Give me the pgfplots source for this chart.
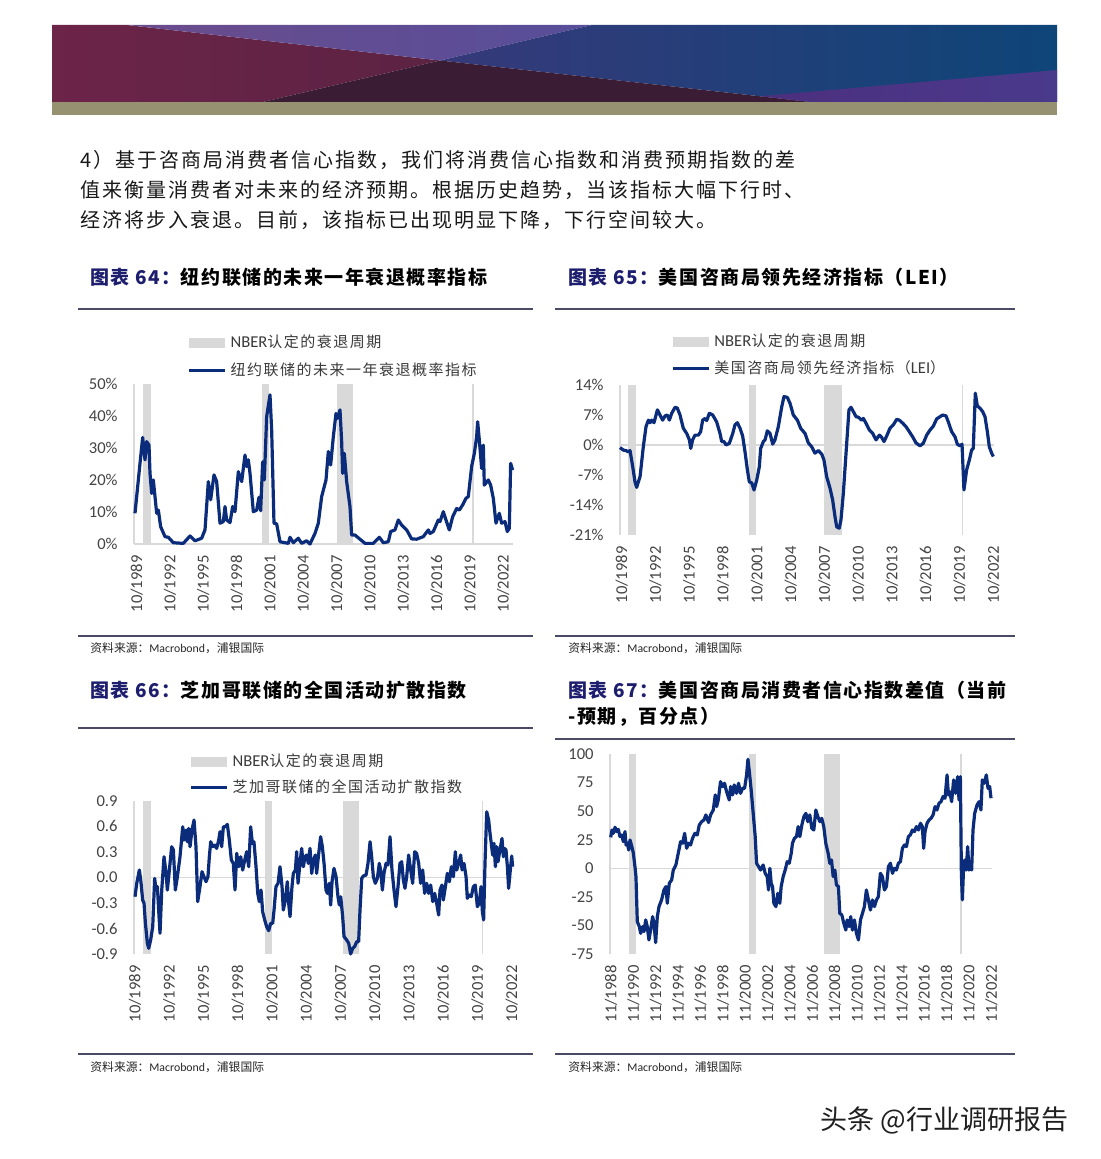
\documentclass[border=0pt]{standalone}
\usepackage{pgfplots}
\pgfplotsset{compat=1.18}
\usepackage{fontspec}
\setmainfont{Carlito}
\newfontfamily\cjk{Noto Sans CJK SC}
\newfontfamily\cjkls[LetterSpace=10]{Noto Sans CJK SC}
\newfontfamily\cjkbody[LetterSpace=10]{Noto Sans CJK SC}
\newfontfamily\cjktitle[LetterSpace=8]{Noto Sans CJK SC}

\definecolor{serc}{HTML}{0A2C7A}
\definecolor{recgray}{HTML}{D9D9D9}
\definecolor{axgray}{HTML}{D9D9D9}
\definecolor{ticklbl}{HTML}{444444}
\definecolor{legtext}{HTML}{3A3A3A}
\definecolor{titlenavy}{HTML}{1E1E6E}
\definecolor{rulec}{HTML}{4A4A66}
\definecolor{mar1}{HTML}{6C2448}
\definecolor{mar2}{HTML}{5C2343}
\definecolor{pur1}{HTML}{6A4C8C}
\definecolor{pur2}{HTML}{584E9A}
\definecolor{nav1}{HTML}{36397A}
\definecolor{nav2}{HTML}{0E4578}
\definecolor{darkb}{HTML}{3B1C35}
\definecolor{vio1}{HTML}{4C2F7E}
\definecolor{vio2}{HTML}{4A3A8C}
\definecolor{olivec}{HTML}{959171}

\tikzset{
  rec/.style={fill=recgray, draw=none},
  ser/.style={color=serc, line width=1.6pt, line join=round, mark=none},
}
\pgfplotsset{
  chart/.style={
    scale only axis, clip=false, anchor=south west,
    axis x line*=bottom, axis y line*=left,
    x axis line style={draw=none},
    y axis line style={draw=axgray, line width=0.7pt},
    major tick length=0pt,
    tick label style={font=\fontsize{8.3}{9}\selectfont, text=ticklbl},
    xticklabel style={rotate=90, anchor=east, inner sep=0pt},
    yticklabel style={anchor=east, inner sep=0pt},
    xticklabel shift=5.5pt, yticklabel shift=8pt,
    extra y ticks={0}, extra y tick labels={},
    extra y tick style={ymajorgrids=true, major grid style={draw=axgray, line width=0.7pt}},
    legend style={draw=none, fill=none, inner sep=0pt, anchor=north west,
      font=\fontsize{8.3}{9}\selectfont, text=legtext},
    legend cell align=left,
  },
  recleg/.style={legend image code/.code={\fill[recgray] (0pt,-2.6pt) rectangle (18pt,2.6pt);}},
  serleg/.style={legend image code/.code={\draw[serc, line width=1.6pt] (0pt,0pt) -- (18pt,0pt);}},
}

\begin{document}
\begin{tikzpicture}
\path[use as bounding box, fill=white] (0pt,0pt) rectangle (550pt,-579.5pt);
\begin{scope}[x=0.5pt,y=-0.5pt]
% banner
\shade[left color=mar1, right color=mar2] (52,25) -- (127,25) -- (440,60.5) -- (263,102) -- (52,102) -- cycle;
\shade[left color=pur1, right color=pur2] (127,25) -- (592,25) -- (440,60.5) -- cycle;
\shade[left color=nav1, right color=nav2] (592,25) -- (1057,25) -- (1057,102) -- (811,102) -- (440,60.5) -- cycle;
\fill[darkb] (440,60.5) -- (811,102) -- (263,102) -- cycle;
\shade[left color=vio1, right color=vio2] (760,96.3) -- (1057,70) -- (1057,102) -- (811,102) -- cycle;
\fill[olivec] (52,102) rectangle (1057,115);
% body text
\node[anchor=west, inner sep=0pt, font=\cjkbody\fontsize{10}{12}\selectfont, text=black!90] at (80,160) {4）基于咨商局消费者信心指数，我们将消费信心指数和消费预期指数的差};
\node[anchor=west, inner sep=0pt, font=\cjkbody\fontsize{10}{12}\selectfont, text=black!90] at (80,190) {值来衡量消费者对未来的经济预期。根据历史趋势，当该指标大幅下行时、};
\node[anchor=west, inner sep=0pt, font=\cjkbody\fontsize{10}{12}\selectfont, text=black!90] at (80,220) {经济将步入衰退。目前，该指标已出现明显下降，下行空间较大。};
% titles
\node[anchor=west, inner sep=0pt, font=\cjktitle\bfseries\fontsize{9.5}{11}\selectfont] at (90,277) {\textcolor{titlenavy}{图表 64：}纽约联储的未来一年衰退概率指标};
\node[anchor=west, inner sep=0pt, font=\cjktitle\bfseries\fontsize{9.5}{11}\selectfont] at (568,277) {\textcolor{titlenavy}{图表 65：}美国咨商局领先经济指标（LEI）};
\node[anchor=west, inner sep=0pt, font=\cjktitle\bfseries\fontsize{9.5}{11}\selectfont] at (90,690) {\textcolor{titlenavy}{图表 66：}芝加哥联储的全国活动扩散指数};
\node[anchor=west, inner sep=0pt, font=\cjktitle\bfseries\fontsize{9.5}{11}\selectfont] at (568,690) {\textcolor{titlenavy}{图表 67：}美国咨商局消费者信心指数差值（当前};
\node[anchor=west, inner sep=0pt, font=\cjktitle\bfseries\fontsize{9.5}{11}\selectfont] at (568,717) {-预期，百分点）};
% rules
\draw[rulec, line width=0.6pt] (78,309) -- (533,309);
\draw[rulec, line width=0.6pt] (555,309) -- (1015,309);
\draw[rulec, line width=0.6pt] (78,636) -- (533,636);
\draw[rulec, line width=0.6pt] (555,636) -- (1015,636);
\draw[rulec, line width=0.6pt] (78,728) -- (533,728);
\draw[rulec, line width=0.6pt] (555,739) -- (1015,739);
\draw[rulec, line width=0.6pt] (78,1054) -- (533,1054);
\draw[rulec, line width=0.6pt] (555,1054) -- (1015,1054);
% sources
\node[anchor=west, inner sep=0pt, font=\fontsize{5.9}{7}\selectfont, text=black!85] at (90,648) {{\cjk 资料来源：}Macrobond{\cjk ，浦银国际}};
\node[anchor=west, inner sep=0pt, font=\fontsize{5.9}{7}\selectfont, text=black!85] at (568,648) {{\cjk 资料来源：}Macrobond{\cjk ，浦银国际}};
\node[anchor=west, inner sep=0pt, font=\fontsize{5.9}{7}\selectfont, text=black!85] at (90,1067) {{\cjk 资料来源：}Macrobond{\cjk ，浦银国际}};
\node[anchor=west, inner sep=0pt, font=\fontsize{5.9}{7}\selectfont, text=black!85] at (568,1067) {{\cjk 资料来源：}Macrobond{\cjk ，浦银国际}};
% watermark
\node[anchor=west, inner sep=0pt, font=\cjk\fontsize{13.5}{15}\selectfont, text=black!88] at (820,1120) {头条 @行业调研报告};
\end{scope}

% ===== Chart 64 =====
\begin{axis}[chart, at={(67pt,-272pt)}, width=189.65pt, height=80pt,
  xmin=1989.51, xmax=2023.65, ymin=0, ymax=50,
  ytick={0,10,20,30,40,50}, yticklabels={0\%,10\%,20\%,30\%,40\%,50\%},
  xtick={1989.75,1992.75,1995.75,1998.75,2001.75,2004.75,2007.75,2010.75,2013.75,2016.75,2019.75,2022.75},
  xticklabels={10/1989,10/1992,10/1995,10/1998,10/2001,10/2004,10/2007,10/2010,10/2013,10/2016,10/2019,10/2022},
  legend style={at={(0.1397,1.334)}, row sep=2pt}]
\addplot[rec, recleg] coordinates {(1990.29,0) (1990.29,50) (1991.04,50) (1991.04,0)};
\addlegendentry{NBER{\cjkls\fontsize{7.5}{9}\selectfont 认定的衰退周期}}
\addplot[rec, forget plot] coordinates {(2001.00,0) (2001.00,50) (2001.69,50) (2001.69,0)};
\addplot[rec, forget plot] coordinates {(2007.75,0) (2007.75,50) (2009.25,50) (2009.25,0)};
\addplot[rec, forget plot] coordinates {(2019.90,0) (2019.90,50) (2020.11,50) (2020.11,0)};
\addplot[ser, serleg] table {
1989.60 9.6
1990.05 25.2
1990.29 33.3
1990.50 26.3
1990.65 32.0
1990.86 30.9
1990.95 22.1
1991.10 15.8
1991.25 20.0
1991.40 14.8
1991.55 9.6
1991.70 10.6
1991.91 5.4
1992.30 2.3
1992.60 2.1
1993.05 0.4
1993.95 0.2
1994.55 2.5
1995.00 1.0
1995.60 1.8
1995.90 4.4
1996.20 19.5
1996.41 13.8
1996.71 21.6
1996.95 19.5
1997.25 6.5
1997.55 7.0
1997.70 11.7
1997.85 7.5
1998.15 6.7
1998.39 11.7
1998.60 10.1
1998.90 22.6
1999.20 19.5
1999.50 27.8
1999.65 24.2
1999.80 26.3
1999.95 22.1
2000.25 10.1
2000.55 10.6
2000.76 14.6
2000.91 10.4
2001.09 25.7
2001.24 20.0
2001.45 39.8
2001.75 46.6
2001.90 35.6
2002.11 6.5
2002.35 6.3
2002.65 0.7
2003.40 0.2
2003.55 2.1
2003.85 0.4
2004.30 1.8
2004.60 0.2
2005.05 1.0
2005.35 0.0
2005.80 3.3
2006.10 6.5
2006.40 14.8
2006.79 20.0
2007.00 28.9
2007.21 24.7
2007.45 33.5
2007.69 40.8
2007.84 39.3
2008.05 41.9
2008.20 32.0
2008.29 22.1
2008.44 28.3
2008.65 19.5
2008.95 11.7
2009.10 2.8
2009.40 2.8
2009.85 1.5
2010.30 0.2
2011.05 0.2
2011.59 2.1
2011.95 0.4
2012.40 0.7
2012.61 3.9
2013.00 4.4
2013.30 7.5
2013.60 5.9
2014.05 4.4
2014.50 1.6
2014.95 1.5
2015.55 2.3
2016.00 4.4
2016.15 3.3
2016.45 3.9
2016.90 7.5
2017.05 7.0
2017.35 10.1
2017.59 7.5
2017.89 4.4
2018.19 8.5
2018.55 11.1
2018.79 10.6
2019.09 12.2
2019.39 14.3
2019.60 14.8
2019.90 24.2
2020.14 28.3
2020.35 33.5
2020.44 38.2
2020.59 32.5
2020.80 23.6
2020.95 30.9
2021.04 18.4
2021.40 20.0
2021.61 18.4
2021.85 14.3
2022.09 6.5
2022.39 9.6
2022.60 6.5
2022.90 7.0
2023.11 3.9
2023.29 4.9
2023.41 25.2
2023.59 23.1
};
\addlegendentry{{\cjkls\fontsize{7.5}{9}\selectfont 纽约联储的未来一年衰退概率指标}}
\end{axis}

% ===== Chart 65 =====
\begin{axis}[chart, at={(310pt,-267.5pt)}, width=187pt, height=75pt,
  xmin=1989.60, xmax=2022.81, ymin=-21, ymax=14,
  ytick={-21,-14,-7,0,7,14}, yticklabels={-21\%,-14\%,-7\%,0\%,7\%,14\%},
  xtick={1989.75,1992.75,1995.75,1998.75,2001.75,2004.75,2007.75,2010.75,2013.75,2016.75,2019.75,2022.75},
  xticklabels={10/1989,10/1992,10/1995,10/1998,10/2001,10/2004,10/2007,10/2010,10/2013,10/2016,10/2019,10/2022},
  legend style={at={(0.136,1.37)}, row sep=1.5pt}]
\addplot[rec, recleg] coordinates {(1990.34,-21) (1990.34,14) (1991.02,14) (1991.02,-21)};
\addlegendentry{NBER{\cjkls\fontsize{7.5}{9}\selectfont 认定的衰退周期}}
\addplot[rec, forget plot] coordinates {(2001.02,-21) (2001.02,14) (2001.68,14) (2001.68,-21)};
\addplot[rec, forget plot] coordinates {(2007.74,-21) (2007.74,14) (2009.28,14) (2009.28,-21)};
\addplot[rec, forget plot] coordinates {(2019.94,-21) (2019.94,14) (2020.09,14) (2020.09,-21)};
\addplot[ser, serleg] table {
1989.60 -0.6
1989.90 -1.2
1990.13 -1.3
1990.34 -1.6
1990.49 -1.3
1990.73 -5.1
1990.93 -8.6
1991.08 -9.9
1991.23 -8.6
1991.38 -7.4
1991.67 -0.4
1991.91 4.3
1992.12 5.8
1992.27 5.2
1992.41 5.8
1992.62 5.2
1992.92 8.2
1993.15 7.0
1993.39 5.8
1993.60 6.8
1993.80 7.0
1993.98 5.8
1994.19 7.4
1994.49 8.8
1994.69 8.6
1994.93 7.0
1995.22 3.9
1995.52 2.7
1995.76 1.2
1995.88 -0.8
1996.05 1.2
1996.26 2.3
1996.56 2.3
1996.76 3.1
1996.94 5.8
1997.15 6.2
1997.30 5.7
1997.53 7.4
1997.83 7.0
1998.18 5.4
1998.48 2.7
1998.63 0.8
1998.84 0.8
1999.01 0.0
1999.31 0.4
1999.61 2.7
1999.81 4.7
2000.02 5.2
2000.26 3.9
2000.49 2.1
2000.70 -1.6
2000.91 -5.8
2001.08 -8.6
2001.29 -8.8
2001.50 -10.5
2001.74 -8.2
2001.97 -5.1
2002.09 -0.8
2002.33 0.8
2002.48 1.2
2002.68 3.3
2002.92 2.7
2003.16 0.2
2003.36 1.2
2003.66 4.3
2003.96 8.9
2004.16 11.3
2004.46 11.1
2004.70 9.7
2004.99 7.0
2005.35 5.8
2005.64 3.9
2006.03 2.7
2006.32 0.5
2006.62 -0.4
2006.91 -1.9
2007.21 -1.3
2007.51 -2.1
2007.71 -3.5
2007.95 -7.4
2008.25 -10.1
2008.48 -12.8
2008.69 -16.7
2008.84 -19.1
2009.07 -19.4
2009.22 -17.5
2009.43 -11.3
2009.73 0.4
2009.93 8.2
2010.11 8.8
2010.32 7.8
2010.56 6.6
2010.76 6.5
2011.06 5.8
2011.21 6.2
2011.44 5.1
2011.74 3.5
2012.04 2.7
2012.33 1.2
2012.63 2.3
2012.83 1.8
2013.04 0.8
2013.28 2.1
2013.57 3.9
2013.87 4.7
2014.17 6.0
2014.40 5.8
2014.70 5.1
2014.99 4.3
2015.29 3.1
2015.59 1.9
2015.88 0.5
2016.24 -0.2
2016.53 0.4
2016.83 2.3
2017.13 3.5
2017.42 4.4
2017.72 6.1
2018.01 6.6
2018.25 7.0
2018.55 6.8
2018.75 5.4
2019.05 3.1
2019.35 1.9
2019.55 0.2
2019.79 -0.2
2019.97 0.2
2020.14 -10.5
2020.38 -5.8
2020.62 -3.5
2020.82 -1.2
2020.97 -0.8
2021.15 12.1
2021.33 9.1
2021.56 8.6
2021.80 7.8
2022.01 6.6
2022.22 3.1
2022.39 -0.4
2022.60 -1.9
2022.75 -2.7
};
\addlegendentry{{\cjkls\fontsize{7.5}{9}\selectfont 美国咨商局领先经济指标（}LEI{\cjkls\fontsize{7.5}{9}\selectfont ）}}
\end{axis}

% ===== Chart 66 =====
\begin{axis}[chart, at={(67pt,-477pt)}, width=189.65pt, height=76.65pt,
  xmin=1989.66, xmax=2022.89, ymin=-0.9, ymax=0.9,
  ytick={-0.9,-0.6,-0.3,0,0.3,0.6,0.9}, yticklabels={-0.9,-0.6,-0.3,0.0,0.3,0.6,0.9},
  xtick={1989.75,1992.75,1995.75,1998.75,2001.75,2004.75,2007.75,2010.75,2013.75,2016.75,2019.75,2022.75},
  xticklabels={10/1989,10/1992,10/1995,10/1998,10/2001,10/2004,10/2007,10/2010,10/2013,10/2016,10/2019,10/2022},
  legend style={at={(0.145,1.334)}, row sep=1pt}]
\addplot[rec, recleg] coordinates {(1990.48,-0.9) (1990.48,0.9) (1991.12,0.9) (1991.12,-0.9)};
\addlegendentry{NBER{\cjkls\fontsize{7.5}{9}\selectfont 认定的衰退周期}}
\addplot[rec, forget plot] coordinates {(2001.14,-0.9) (2001.14,0.9) (2001.78,0.9) (2001.78,-0.9)};
\addplot[rec, forget plot] coordinates {(2007.94,-0.9) (2007.94,0.9) (2009.35,0.9) (2009.35,-0.9)};
\addplot[rec, forget plot] coordinates {(2020.12,-0.9) (2020.12,0.9) (2020.27,0.9) (2020.27,-0.9)};
\addplot[ser, serleg] table {
1989.75 -0.227
1989.90 -0.070
1990.13 0.086
1990.25 -0.031
1990.42 -0.266
1990.54 -0.305
1990.66 -0.540
1990.83 -0.774
1990.95 -0.833
1991.12 -0.735
1991.30 -0.579
1991.47 -0.012
1991.59 -0.149
1991.71 -0.109
1991.82 -0.383
1991.94 -0.657
1992.09 -0.149
1992.29 0.242
1992.47 0.047
1992.58 -0.149
1992.76 0.086
1992.96 0.360
1993.11 0.321
1993.28 -0.149
1993.46 0.008
1993.69 0.242
1993.93 0.594
1994.04 0.438
1994.22 0.555
1994.33 0.418
1994.45 0.575
1994.57 0.360
1994.74 0.555
1994.92 0.673
1995.09 0.360
1995.24 -0.285
1995.44 -0.109
1995.62 0.066
1995.79 0.008
1995.97 -0.051
1996.14 0.008
1996.26 0.242
1996.38 0.418
1996.55 0.360
1996.73 0.379
1996.90 0.340
1997.08 0.438
1997.20 0.536
1997.34 0.360
1997.49 0.594
1997.66 0.594
1997.84 0.622
1998.01 0.438
1998.19 0.203
1998.36 0.164
1998.51 -0.149
1998.66 0.282
1998.83 0.125
1999.01 0.242
1999.18 0.086
1999.36 0.203
1999.53 0.301
1999.71 0.125
1999.88 0.594
2000.03 0.399
2000.17 0.418
2000.35 0.125
2000.50 -0.188
2000.64 -0.285
2000.79 -0.149
2000.93 -0.403
2001.11 -0.500
2001.28 -0.579
2001.46 -0.626
2001.63 -0.540
2001.81 -0.540
2001.93 -0.383
2002.10 -0.109
2002.28 -0.070
2002.45 0.125
2002.63 -0.109
2002.74 -0.383
2002.92 -0.266
2003.09 -0.051
2003.21 -0.305
2003.33 -0.461
2003.50 -0.109
2003.62 0.047
2003.80 0.086
2003.91 0.301
2004.03 -0.070
2004.20 0.164
2004.35 0.340
2004.50 0.125
2004.64 0.242
2004.79 0.262
2004.93 0.164
2005.08 0.340
2005.23 0.047
2005.37 0.203
2005.55 0.262
2005.66 0.047
2005.81 0.242
2006.01 0.477
2006.16 0.360
2006.31 0.164
2006.48 -0.149
2006.60 -0.188
2006.77 -0.070
2006.89 -0.325
2007.01 -0.051
2007.18 0.106
2007.36 0.008
2007.53 -0.227
2007.65 -0.325
2007.77 -0.227
2007.94 -0.461
2008.06 -0.696
2008.29 -0.735
2008.47 -0.774
2008.64 -0.899
2008.82 -0.833
2008.99 -0.813
2009.17 -0.755
2009.34 -0.755
2009.46 -0.383
2009.61 -0.012
2009.75 0.016
2009.99 0.027
2010.16 0.164
2010.34 0.418
2010.48 0.242
2010.63 0.008
2010.80 -0.070
2010.98 -0.012
2011.15 0.164
2011.27 0.086
2011.42 -0.149
2011.56 0.047
2011.74 0.164
2011.91 0.145
2012.09 0.477
2012.26 0.086
2012.44 -0.149
2012.61 -0.344
2012.79 -0.109
2012.96 0.164
2013.11 0.184
2013.26 -0.031
2013.40 -0.129
2013.55 0.008
2013.72 0.262
2013.90 0.086
2014.07 -0.070
2014.25 0.301
2014.42 0.282
2014.60 0.164
2014.77 -0.070
2014.95 0.086
2015.12 -0.188
2015.30 -0.070
2015.48 -0.188
2015.65 -0.090
2015.83 -0.285
2016.00 -0.188
2016.18 -0.305
2016.35 -0.442
2016.47 -0.149
2016.64 -0.090
2016.76 -0.266
2016.94 -0.109
2017.11 0.047
2017.29 -0.051
2017.46 0.125
2017.64 0.008
2017.81 0.301
2017.93 0.086
2018.10 0.164
2018.28 0.262
2018.40 0.086
2018.57 0.164
2018.75 0.008
2018.86 -0.246
2019.04 -0.207
2019.21 -0.227
2019.39 -0.109
2019.56 -0.090
2019.74 -0.344
2019.91 -0.305
2020.06 -0.109
2020.18 -0.403
2020.29 -0.500
2020.41 0.164
2020.56 0.770
2020.73 0.673
2020.85 0.516
2020.96 0.399
2021.08 0.262
2021.20 0.399
2021.32 0.125
2021.43 0.360
2021.55 0.184
2021.72 0.321
2021.90 0.457
2022.02 0.242
2022.13 0.340
2022.25 0.321
2022.37 0.125
2022.48 -0.129
2022.60 0.047
2022.75 0.250
2022.83 0.125
};
\addlegendentry{{\cjkls\fontsize{7.5}{9}\selectfont 芝加哥联储的全国活动扩散指数}}
\end{axis}

% ===== Chart 67 =====
\begin{axis}[chart, at={(305pt,-477pt)}, width=191pt, height=100pt,
  xmin=1988.74, xmax=2022.89, ymin=-75, ymax=100,
  ytick={-75,-50,-25,0,25,50,75,100}, yticklabels={-75,-50,-25,0,25,50,75,100},
  xtick={1988.83,1990.83,1992.83,1994.83,1996.83,1998.83,2000.83,2002.83,2004.83,2006.83,2008.83,2010.83,2012.83,2014.83,2016.83,2018.83,2020.83,2022.83},
  xticklabels={11/1988,11/1990,11/1992,11/1994,11/1996,11/1998,11/2000,11/2002,11/2004,11/2006,11/2008,11/2010,11/2012,11/2014,11/2016,11/2018,11/2020,11/2022}]
\addplot[rec] coordinates {(1990.47,-75) (1990.47,100) (1991.06,100) (1991.06,-75)};
\addplot[rec] coordinates {(2001.13,-75) (2001.13,100) (2001.75,100) (2001.75,-75)};
\addplot[rec] coordinates {(2007.88,-75) (2007.88,100) (2009.28,100) (2009.28,-75)};
\addplot[rec] coordinates {(2020.03,-75) (2020.03,100) (2020.18,100) (2020.18,-75)};
\addplot[ser] table {
1988.80 27.1
1988.92 33.5
1989.04 30.6
1989.19 35.9
1989.34 32.1
1989.48 34.1
1989.63 27.7
1989.78 29.2
1989.93 23.3
1990.08 32.1
1990.17 20.4
1990.29 21.9
1990.41 16.0
1990.53 24.8
1990.68 19.5
1990.82 13.7
1990.97 1.5
1991.06 -7.3
1991.18 -46.7
1991.36 -51.0
1991.48 -56.9
1991.66 -51.0
1991.78 -55.4
1991.93 -45.2
1992.07 -51.0
1992.22 -62.7
1992.37 -54.0
1992.55 -42.3
1992.67 -48.1
1992.82 -65.0
1992.97 -42.3
1993.12 -33.5
1993.35 -27.7
1993.56 -19.0
1993.74 -16.0
1993.86 -30.6
1994.04 -13.1
1994.25 -10.2
1994.40 -1.5
1994.63 2.9
1994.84 13.1
1995.05 23.3
1995.23 21.9
1995.41 30.6
1995.59 17.5
1995.77 21.9
1995.94 20.4
1996.12 26.3
1996.33 30.6
1996.54 29.2
1996.72 37.9
1996.93 40.8
1997.14 42.3
1997.31 46.7
1997.55 40.0
1997.73 46.7
1997.97 51.0
1998.15 64.2
1998.27 54.0
1998.42 59.8
1998.62 75.8
1998.80 71.5
1998.98 74.4
1999.16 67.1
1999.40 59.8
1999.52 71.5
1999.70 64.2
1999.84 72.9
2000.05 65.6
2000.23 74.4
2000.41 65.6
2000.59 70.0
2000.77 70.0
2000.95 81.7
2001.07 95.4
2001.18 86.0
2001.36 68.5
2001.54 48.1
2001.72 27.7
2001.84 4.4
2002.02 1.5
2002.20 -1.5
2002.43 2.9
2002.61 -4.4
2002.79 -7.3
2002.91 -19.0
2003.03 0.0
2003.15 -13.1
2003.27 -16.0
2003.39 -30.6
2003.57 -33.5
2003.74 -21.9
2003.92 -30.6
2004.04 -16.0
2004.22 -7.3
2004.40 -1.5
2004.58 5.8
2004.76 4.4
2004.94 13.1
2005.05 21.9
2005.23 26.3
2005.41 27.7
2005.56 36.5
2005.71 27.7
2005.89 37.9
2006.07 45.2
2006.25 48.1
2006.42 40.8
2006.60 46.7
2006.78 35.0
2006.96 33.5
2007.14 51.0
2007.32 45.2
2007.50 40.8
2007.67 43.8
2007.85 36.5
2008.03 21.9
2008.24 13.1
2008.39 4.4
2008.54 7.3
2008.69 -7.3
2008.84 -1.5
2008.98 -14.6
2009.16 -16.0
2009.28 -39.4
2009.46 -40.8
2009.64 -48.1
2009.82 -54.0
2009.94 -45.2
2010.12 -51.0
2010.26 -42.3
2010.41 -54.0
2010.59 -45.2
2010.77 -56.9
2010.95 -62.7
2011.13 -45.2
2011.31 -39.4
2011.48 -33.5
2011.66 -19.0
2011.84 -27.7
2012.02 -36.5
2012.20 -27.7
2012.38 -33.5
2012.56 -27.7
2012.73 -24.8
2012.91 -4.4
2013.09 -7.3
2013.27 -19.0
2013.45 -16.0
2013.63 1.5
2013.81 4.4
2013.99 -4.4
2014.16 0.0
2014.34 -1.5
2014.52 4.4
2014.70 5.8
2014.88 17.5
2015.06 20.4
2015.24 19.0
2015.41 27.7
2015.59 29.2
2015.77 33.5
2015.95 32.1
2016.13 36.5
2016.31 33.5
2016.49 39.4
2016.66 36.5
2016.78 17.5
2016.90 32.1
2017.08 39.4
2017.26 42.3
2017.44 43.8
2017.62 46.7
2017.80 54.0
2017.97 51.0
2018.15 56.9
2018.33 58.3
2018.51 62.7
2018.69 61.3
2018.87 81.7
2018.99 64.2
2019.11 67.1
2019.28 58.3
2019.46 77.3
2019.64 65.6
2019.82 80.2
2019.94 59.8
2020.06 80.2
2020.15 -4.4
2020.24 -27.7
2020.36 4.4
2020.47 7.3
2020.59 -1.5
2020.71 19.0
2020.83 -1.5
2020.95 1.5
2021.07 -1.5
2021.19 33.5
2021.34 48.1
2021.55 55.4
2021.73 58.3
2021.90 51.0
2022.02 77.3
2022.20 74.4
2022.38 81.7
2022.53 70.0
2022.68 71.5
2022.80 61.3
};
\end{axis}
\end{tikzpicture}
\end{document}
